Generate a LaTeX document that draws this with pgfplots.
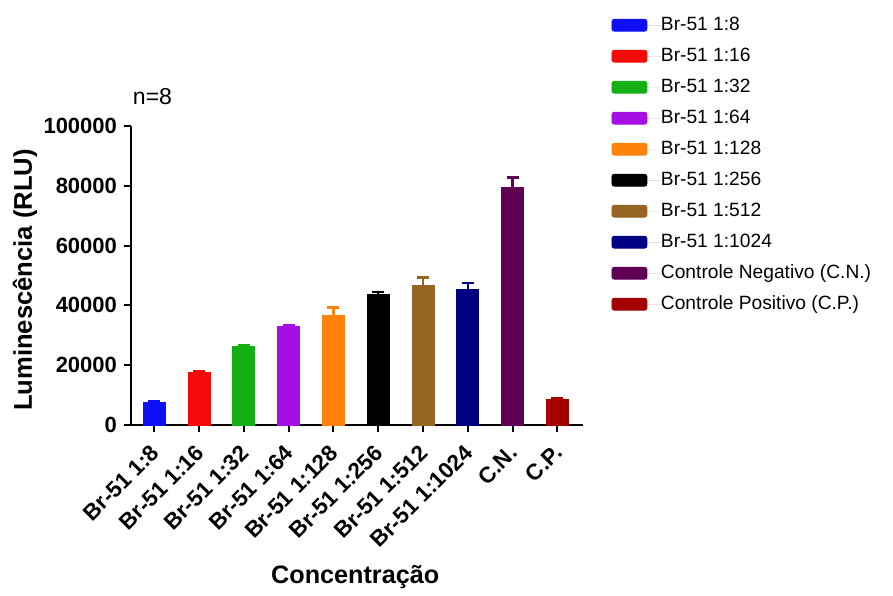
\documentclass[border=0pt]{standalone}
\usepackage{pgfplots}
\pgfplotsset{compat=1.18}
\usepackage{fontspec}
\setmainfont{Liberation Sans}
\definecolor{c1}{RGB}{15,15,245}
\definecolor{c2}{RGB}{245,10,10}
\definecolor{c3}{RGB}{20,175,20}
\definecolor{c4}{RGB}{165,15,230}
\definecolor{c5}{RGB}{255,130,10}
\definecolor{c6}{RGB}{0,0,0}
\definecolor{c7}{RGB}{150,100,35}
\definecolor{c8}{RGB}{0,0,130}
\definecolor{c9}{RGB}{95,0,85}
\definecolor{c10}{RGB}{165,0,0}
\begin{document}
\begin{tikzpicture}
\begin{axis}[
  anchor=south west, at={(0,0)},
  scale only axis, width=226pt, height=149.5pt,
  ybar, bar width=11pt, bar shift=0pt,
  xmin=-0.52, xmax=9.57, ymin=0, ymax=100000,
  axis x line=bottom, axis y line=left,
  axis line style={-, line width=1pt},
  xtick={0,...,9},
  xticklabels={Br-51 1:8, Br-51 1:16, Br-51 1:32, Br-51 1:64, Br-51 1:128, Br-51 1:256, Br-51 1:512, Br-51 1:1024, C.N., C.P.},
  x tick label style={xshift=-2.5pt, yshift=-4pt, rotate=45, anchor=north east, font=\fontsize{11.2}{13}\selectfont\bfseries, inner sep=1pt},
  ytick={0,20000,40000,60000,80000,100000},
  yticklabels={0,20000,40000,60000,80000,100000},
  scaled y ticks=false,
  yticklabel style={font=\fontsize{11}{13}\selectfont\bfseries},
  tick align=outside, major tick length=3.5pt,
  tick style={line width=1pt, black},
  ylabel={Luminescência (RLU)},
  ylabel style={at={(axis description cs:-0.2345,0.485)}, anchor=center, font=\fontsize{12.8}{14}\selectfont\bfseries},
  xlabel={Concentração},
  xlabel style={at={(axis description cs:0.496,-0.508)}, anchor=center, font=\fontsize{12.6}{14}\selectfont\bfseries},
  error bars/y dir=plus, error bars/y explicit,
  error bars/error bar style={line width=1.2pt},
  error bars/error mark options={rotate=90, line width=1.2pt, mark size=3pt},
  legend style={at={(rel axis cs:1.049,1.382)}, anchor=north west, draw=none, fill=none,
    font=\fontsize{9.6}{11}\selectfont, row sep=6.5pt,
    nodes={inner sep=0pt, text height=7pt, text depth=2pt}},
  legend cell align=left,
  legend image code/.code={\fill[#1, rounded corners=1.2pt] (0pt,-3pt) rectangle (17.5pt,3pt); \path[draw=none] (0pt,0pt) -- (24.5pt,0pt);},
  clip=false,
]
\addplot[color=c1, fill=c1] coordinates {(0,7600) +- (0,300)};
\addplot[color=c2, fill=c2] coordinates {(1,17500) +- (0,400)};
\addplot[color=c3, fill=c3] coordinates {(2,26200) +- (0,400)};
\addplot[color=c4, fill=c4] coordinates {(3,33000) +- (0,300)};
\addplot[color=c5, fill=c5] coordinates {(4,36800) +- (0,2500)};
\addplot[color=c6, fill=c6] coordinates {(5,43700) +- (0,700)};
\addplot[color=c7, fill=c7] coordinates {(6,46800) +- (0,2500)};
\addplot[color=c8, fill=c8] coordinates {(7,45400) +- (0,2000)};
\addplot[color=c9, fill=c9] coordinates {(8,79300) +- (0,3500)};
\addplot[color=c10, fill=c10] coordinates {(9,8500) +- (0,300)};
\legend{Br-51 1:8, Br-51 1:16, Br-51 1:32, Br-51 1:64, Br-51 1:128, Br-51 1:256, Br-51 1:512, Br-51 1:1024, Controle Negativo (C.N.), Controle Positivo (C.P.)}
\node[font=\fontsize{11.5}{13}\selectfont, anchor=center] at (axis description cs:0.0475,1.097) {n=8};
\end{axis}
\path ([shift={(-65.5pt,-82.5pt)}]current axis.south west) rectangle ([shift={(381pt,212.5pt)}]current axis.south west);
\end{tikzpicture}
\end{document}
